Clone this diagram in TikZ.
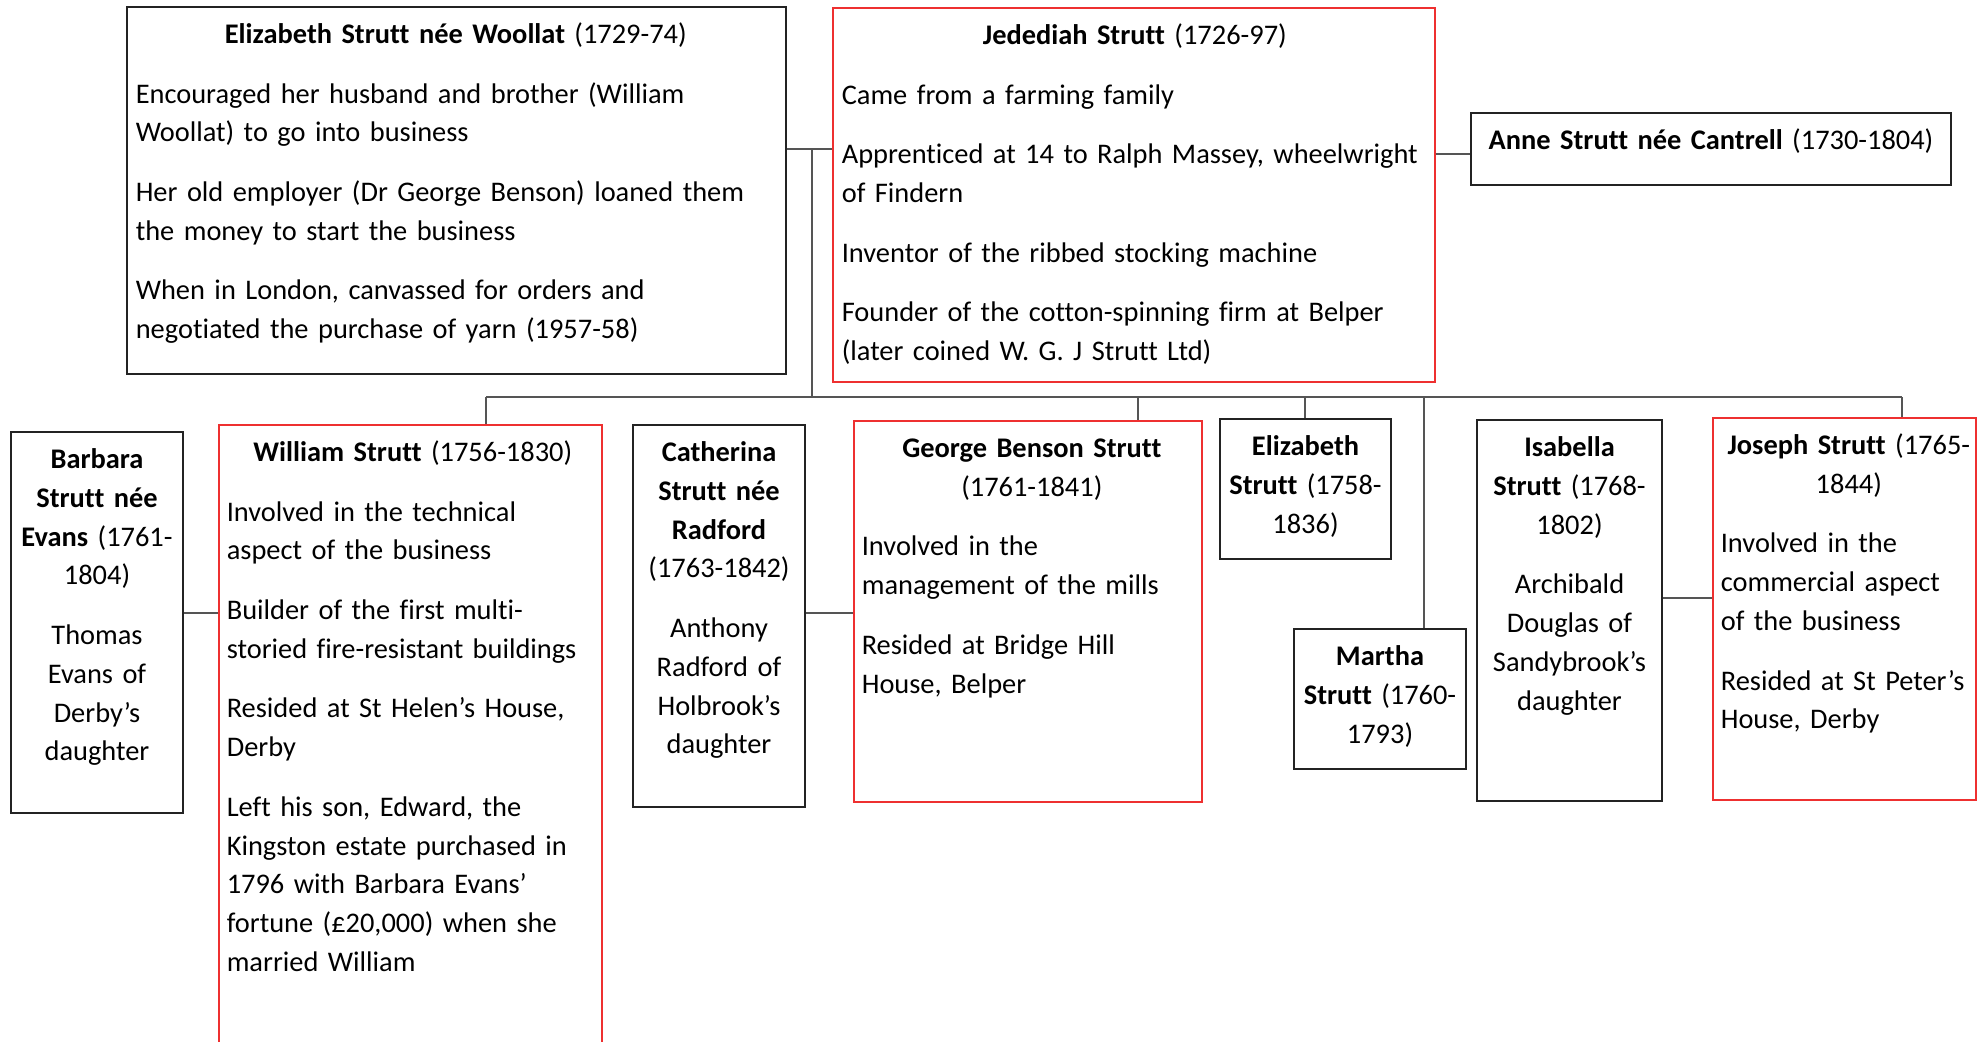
\documentclass[tikz,border=0pt]{standalone}
\usepackage{fontspec}
\setmainfont{Carlito}[Ligatures=NoCommon]
\usetikzlibrary{fit,calc}
\definecolor{redline}{RGB}{238,48,48}
\definecolor{blkline}{RGB}{35,35,35}
\definecolor{conline}{RGB}{85,85,85}
\newcommand{\fsz}{\fontsize{14.2}{19.4}\selectfont}
\newcommand{\ini}{\setlength{\parskip}{10.4pt}\rule{0pt}{13.8pt}}
\tikzset{
  bbox/.style={draw=blkline, line width=0.6pt, inner sep=0pt, rectangle},
  rbox/.style={draw=redline, line width=0.6pt, inner sep=0pt, rectangle},
  conn/.style={draw=conline, line width=0.6pt},
  ltxt/.style={font=\fsz, inner sep=0pt, anchor=north west},
  ctxt/.style={font=\fsz, inner sep=0pt, anchor=north}
}
\begin{document}
\begin{tikzpicture}[x=0.5pt, y=-0.5pt]
\useasboundingbox (0,0) rectangle (1988,1041);
\clip (0,0) rectangle (1988,1041);
\fill[white] (0,0) rectangle (1988,1041);

% boxes
\node[bbox, fit={(127,7) (786,374)}] (woollat) {};
\node[rbox, fit={(833,8) (1435,382)}] (jed) {};
\node[bbox, fit={(1471,113) (1951,185)}] (anne) {};
\node[bbox, fit={(11,432) (183,813)}] (barb) {};
\node[rbox, fit={(219,425) (602,1090)}] (will) {};
\node[bbox, fit={(633,425) (805,807)}] (cath) {};
\node[rbox, fit={(854,421) (1202,802)}] (george) {};
\node[bbox, fit={(1220,419) (1391,559)}] (eliz) {};
\node[bbox, fit={(1294,629) (1466,769)}] (martha) {};
\node[bbox, fit={(1477,420) (1662,801)}] (isab) {};
\node[rbox, fit={(1713,418) (1976,800)}] (joseph) {};

% texts
\node[ltxt, text width=320pt] (woollatT) at ($(woollat.north west)+(9,9)$) {\raggedright\ini
{\centering\textbf{Elizabeth Strutt née Woollat} (1729-74)\par}
Encouraged her husband and brother (William\\Woollat) to go into business\par
Her old employer (Dr George Benson) loaned them\\the money to start the business\par
When in London, canvassed for orders and\\negotiated the purchase of yarn (1957-58)\par};

\node[ltxt, text width=293pt] (jedT) at ($(jed.north west)+(9,9)$) {\raggedright\ini
{\centering\textbf{Jedediah Strutt} (1726-97)\par}
Came from a farming family\par
Apprenticed at 14 to Ralph Massey, wheelwright\\of Findern\par
Inventor of the ribbed stocking machine\par
Founder of the cotton-spinning firm at Belper\\(later coined W. G. J Strutt Ltd)\par};

\node[ctxt, text width=236pt] (anneT) at ($(anne.north)+(0,9)$) {\centering\ini
\textbf{Anne Strutt née Cantrell} (1730-1804)\par};

\node[ctxt, text width=85pt] (barbT) at ($(barb.north)+(0,9)$) {\centering\ini
\textbf{Barbara}\\\textbf{Strutt née}\\\textbf{Evans} (1761-\\1804)\par
Thomas\\Evans of\\Derby’s\\daughter\par};

\node[ltxt, text width=186pt] (willT) at ($(will.north west)+(8,9)$) {\raggedright\ini
{\centering\textbf{William Strutt} (1756-1830)\par}
Involved in the technical\\aspect of the business\par
Builder of the first multi-\\storied fire-resistant buildings\par
Resided at St Helen’s House,\\Derby\par
Left his son, Edward, the\\Kingston estate purchased in\\1796 with Barbara Evans’\\fortune (£20,000) when she\\married William\par};

\node[ctxt, text width=85pt] (cathT) at ($(cath.north)+(0,9)$) {\centering\ini
\textbf{Catherina}\\\textbf{Strutt née}\\\textbf{Radford}\\(1763-1842)\par
Anthony\\Radford of\\Holbrook’s\\daughter\par};

\node[ltxt, text width=170pt] (georgeT) at ($(george.north west)+(8,9)$) {\raggedright\ini
{\centering\textbf{George Benson Strutt}\\(1761-1841)\par}
Involved in the\\management of the mills\par
Resided at Bridge Hill\\House, Belper\par};

\node[ctxt, text width=85pt] (elizT) at ($(eliz.north)+(0,9)$) {\centering\ini
\textbf{Elizabeth}\\\textbf{Strutt} (1758-\\1836)\par};

\node[ctxt, text width=85pt] (marthaT) at ($(martha.north)+(0,9)$) {\centering\ini
\textbf{Martha}\\\textbf{Strutt} (1760-\\1793)\par};

\node[ctxt, text width=91pt] (isabT) at ($(isab.north)+(0,9)$) {\centering\ini
\textbf{Isabella}\\\textbf{Strutt} (1768-\\1802)\par
Archibald\\Douglas of\\Sandybrook’s\\daughter\par};

\node[ltxt, text width=128pt] (josephT) at ($(joseph.north west)+(8,9)$) {\raggedright\ini
{\centering\textbf{Joseph Strutt} (1765-\\1844)\par}
Involved in the\\commercial aspect\\of the business\par
Resided at St Peter’s\\House, Derby\par};

% connector coordinates
\coordinate (mj) at (812,149);
\coordinate (busL) at (486,397);
\coordinate (busR) at (1902,397);
\coordinate (dropG) at (1138,397);
\coordinate (dropE) at (1305,397);
\coordinate (dropM) at (1424,397);
\coordinate (ja) at (1450,154);
\coordinate (bw) at (200,613);
\coordinate (cg) at (830,613);
\coordinate (ij) at (1690,598);

% connectors
\draw[conn] (woollat.east |- mj) -- (jed.west |- mj);
\draw[conn] (mj) -- (mj |- busL);
\draw[conn] (busL) -- (busR);
\draw[conn] (busL) -- (busL |- will.north);
\draw[conn] (dropG) -- (dropG |- george.north);
\draw[conn] (dropE) -- (dropE |- eliz.north);
\draw[conn] (dropM) -- (dropM |- martha.north);
\draw[conn] (busR) -- (busR |- joseph.north);
\draw[conn] (jed.east |- ja) -- (anne.west |- ja);
\draw[conn] (barb.east |- bw) -- (will.west |- bw);
\draw[conn] (cath.east |- cg) -- (george.west |- cg);
\draw[conn] (isab.east |- ij) -- (joseph.west |- ij);
\end{tikzpicture}
\end{document}
